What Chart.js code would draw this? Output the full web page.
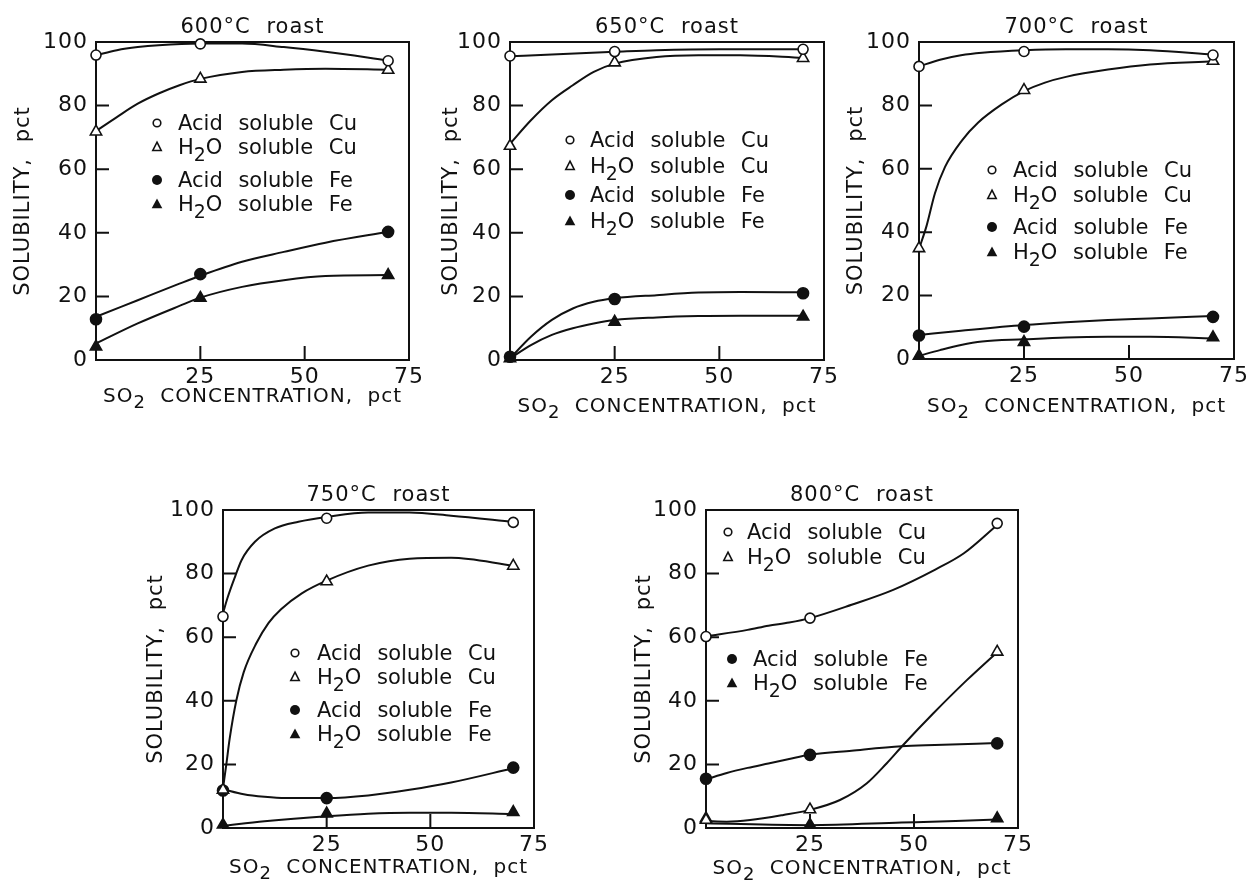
<!DOCTYPE html>
<html>
<head>
<meta charset="utf-8">
<script src="https://cdn.jsdelivr.net/npm/chart.js@4.4.1/dist/chart.umd.min.js"></script>
<style>
  html, body { margin: 0; padding: 0; background: #fff; overflow: hidden; width: 1250px; height: 882px; }
  canvas { position: absolute; }
  .leg { position: absolute; font: 21px "DejaVu Sans", sans-serif; word-spacing: 9px;
         color: #111; white-space: nowrap; line-height: 24px; height: 24px; }
  .xt { position: absolute; font: 20px "DejaVu Sans", sans-serif; letter-spacing: 1px; word-spacing: 7px;
        color: #111; white-space: nowrap; line-height: 24px; height: 24px; text-align: center; }
  .leg sub, .xt sub { font-size: 0.9em; vertical-align: -0.35em; line-height: 0; }
  .mk { position: absolute; }
</style>
</head>
<body>
<script>
// SO2 concentrations of the measured points (pct)
const so2 = [0, 25, 70];
const yMarks = [20, 40, 60, 80];
const xMarks = [25, 50];

const acidCu600 = [95.9, 99.4, 94.1];
const h2oCu600 = [71.8, 88.4, 91.2];
const acidFe600 = [12.8, 27.0, 40.3];
const h2oFe600 = [4.2, 19.5, 26.7];

const acidCu650 = [95.6, 97.0, 97.7];
const h2oCu650 = [67.3, 93.5, 94.9];
const acidFe650 = [1.0, 19.2, 21.0];
const h2oFe650 = [0.5, 12.0, 13.6];

const acidCu700 = [92.3, 97.0, 95.9];
const h2oCu700 = [34.9, 84.8, 94.0];
const acidFe700 = [7.4, 10.2, 13.3];
const h2oFe700 = [1.0, 5.3, 6.8];

const acidCu750 = [66.5, 97.4, 96.1];
const h2oCu750 = [12.0, 77.5, 82.4];
const acidFe750 = [11.8, 9.4, 19.0];
const h2oFe750 = [1.0, 4.5, 5.0];

const acidCu800 = [60.2, 66.0, 95.8];
const h2oCu800 = [2.5, 5.8, 55.4];
const acidFe800 = [15.5, 23.0, 26.6];
const h2oFe800 = [3.0, 1.0, 3.0];

// hand-drawn fitted curves, [SO2, solubility]
const curveAcidCu600 = [[0,95.8],[5,97.4],[10,98.4],[15,99],[25,99.5],[35,99.5],[45,98.4],[55,96.9],[70,94.2]];
const curveH2oCu600 = [[0,72],[5,76.4],[10,80.6],[15,83.8],[20,86.4],[25,88.4],[35,90.6],[45,91.3],[55,91.6],[70,91.3]];
const curveAcidFe600 = [[0,13.6],[10,18.8],[20,24],[25,26.5],[35,30.9],[45,34],[55,36.9],[70,40.3]];
const curveH2oFe600 = [[0,5.2],[10,11.5],[20,17],[25,19.6],[35,23],[45,25.1],[55,26.4],[70,26.7]];

const curveAcidCu650 = [[0,95.5],[10,96.1],[25,96.9],[35,97.4],[50,97.7],[70,97.7]];
const curveH2oCu650 = [[0,68],[5,75.4],[10,81.7],[15,86.4],[20,90.6],[25,93.2],[35,95.3],[45,95.8],[55,95.8],[70,95]];
const curveAcidFe650 = [[0,0.5],[5,7.3],[10,12.6],[15,16.2],[20,18.3],[25,19.4],[35,20.4],[45,21.2],[55,21.4],[70,21.3]];
const curveH2oFe650 = [[0,0.5],[5,4.7],[10,7.9],[15,10],[20,11.5],[25,12.6],[35,13.4],[45,13.8],[55,13.9],[70,13.9]];

const curveAcidCu700 = [[0,92.3],[5,94.4],[10,95.8],[15,96.6],[25,97.4],[35,97.7],[45,97.7],[55,97.4],[70,96.1]];
const curveH2oCu700 = [[0,34.7],[1.8,42],[3.8,52.3],[6.2,60.6],[10.2,68.9],[14.1,74.6],[19.7,80.3],[25,84.5],[30,87.2],[35,89],[45,91.3],[55,92.9],[70,93.9]];
const curveAcidFe700 = [[0,7.6],[10,8.9],[25,10.7],[35,11.6],[45,12.3],[55,12.8],[70,13.6]];
const curveH2oFe700 = [[0,1],[5,2.8],[10,4.4],[15,5.5],[25,6.2],[35,6.8],[45,7],[55,7],[70,6.5]];

const curveAcidCu750 = [[0,67.5],[1,72],[2.9,79],[4.5,84.3],[7.7,90],[12.5,94.2],[18.2,96.3],[25,97.8],[35,99.2],[45,99.2],[55,98.2],[70,96.3]];
const curveH2oCu750 = [[0,12.5],[0.8,20],[1.6,28],[3.2,40],[5,49],[8,58],[11,64.5],[14,68.8],[19,73.8],[25,77.8],[35,82.5],[45,84.7],[55,85],[70,82.5]];
const curveAcidFe750 = [[0,12.2],[5,10.6],[10,9.8],[15,9.4],[25,9.4],[35,10.2],[45,12],[55,14.3],[70,18.8]];
const curveH2oFe750 = [[0,0.7],[10,2.1],[25,3.7],[35,4.5],[45,4.8],[55,4.8],[70,4.4]];

const curveAcidCu800 = [[0,60.3],[10,62.3],[15,63.6],[20,64.6],[25,66],[35,70.2],[45,74.9],[55,81.2],[62,86.4],[70,95.3]];
const curveH2oCu800 = [[0,2.2],[5,2],[10.6,2.5],[18.6,4.1],[25,5.7],[32.2,8.8],[38.6,14],[43.4,20.3],[47.4,26.1],[54.6,36],[62.7,46.5],[70,55.3]];
const curveAcidFe800 = [[0,15.3],[5,17.3],[10,18.9],[15,20.3],[20,21.7],[25,23],[35,24.3],[47,25.7],[55,26.1],[70,26.7]];
const curveH2oFe800 = [[0,1.5],[25,0.9],[47,1.7],[60,2.2],[70,2.7]];

const seriesLabels = ['Acid soluble Cu', 'H<sub>2</sub>O soluble Cu', 'Acid soluble Fe', 'H<sub>2</sub>O soluble Fe'];
const xTitle = 'SO<sub>2</sub> CONCENTRATION, pct';
const yTitle = 'SOLUBILITY, pct';

const INK = '#111';
const FONT = '"DejaVu Sans", sans-serif';

const markerStyles = [
  { pointStyle: 'circle', radius: 5, fill: '#fff' },
  { pointStyle: 'triangle', radius: 6.5, fill: '#fff' },
  { pointStyle: 'circle', radius: 5.5, fill: INK },
  { pointStyle: 'triangle', radius: 6.5, fill: INK }
];

const panels = [
  { title: '600°C roast', box: { x: 96, y: 42, w: 313, h: 318 }, yGap: 72, xGap: 35,
    legend: [[157, 178, 123], [157, 178, 147], [157, 178, 180], [157, 178, 204]],
    marks: [acidCu600, h2oCu600, acidFe600, h2oFe600],
    curves: [curveAcidCu600, curveH2oCu600, curveAcidFe600, curveH2oFe600] },
  { title: '650°C roast', box: { x: 510, y: 42, w: 314, h: 318 }, yGap: 58, xGap: 45,
    legend: [[570, 590, 140], [570, 590, 166], [570, 590, 195], [570, 590, 221]],
    marks: [acidCu650, h2oCu650, acidFe650, h2oFe650],
    curves: [curveAcidCu650, curveH2oCu650, curveAcidFe650, curveH2oFe650] },
  { title: '700°C roast', box: { x: 919, y: 42, w: 315, h: 317 }, yGap: 62, xGap: 46,
    legend: [[992, 1013, 170], [992, 1013, 195], [992, 1013, 227], [992, 1013, 252]],
    marks: [acidCu700, h2oCu700, acidFe700, h2oFe700],
    curves: [curveAcidCu700, curveH2oCu700, curveAcidFe700, curveH2oFe700] },
  { title: '750°C roast', box: { x: 223, y: 510, w: 311, h: 318 }, yGap: 66, xGap: 38,
    legend: [[295, 317, 653], [295, 317, 677], [295, 317, 710], [295, 317, 734]],
    marks: [acidCu750, h2oCu750, acidFe750, h2oFe750],
    curves: [curveAcidCu750, curveH2oCu750, curveAcidFe750, curveH2oFe750] },
  { title: '800°C roast', box: { x: 706, y: 510, w: 312, h: 318 }, yGap: 61, xGap: 39,
    legend: [[728, 747, 532], [728, 747, 557], [732, 753, 659], [732, 753, 683]],
    marks: [acidCu800, h2oCu800, acidFe800, h2oFe800],
    curves: [curveAcidCu800, curveH2oCu800, curveAcidFe800, curveH2oFe800] }
];

// wider letter spacing like the lettering of the original
const spacing = {
  id: 'spacing',
  beforeDraw(chart) {
    chart.ctx.letterSpacing = '1px';
    chart.ctx.wordSpacing = '8px';
  }
};

// closed frame and inward tick marks
const frame = {
  id: 'frame',
  beforeDatasetsDraw(chart) {
    const { ctx, chartArea: a, scales: { x, y } } = chart;
    ctx.save();
    ctx.strokeStyle = INK;
    ctx.lineWidth = 2;
    ctx.strokeRect(a.left, a.top, a.right - a.left, a.bottom - a.top);
    ctx.beginPath();
    yMarks.forEach(v => {
      const py = y.getPixelForValue(v);
      ctx.moveTo(a.left, py);
      ctx.lineTo(a.left + 13, py);
    });
    xMarks.forEach(v => {
      const px = x.getPixelForValue(v);
      ctx.moveTo(px, a.bottom);
      ctx.lineTo(px, a.bottom - 14);
    });
    ctx.stroke();
    ctx.restore();
  }
};

const LEFT = 96, TOP = 42, RIGHT = 12, BOTTOM = 60;

function markerSvg(i) {
  let shape;
  if (i === 0) shape = '<circle cx="7" cy="7" r="3.8" fill="#fff" stroke="#111" stroke-width="1.6"/>';
  if (i === 1) shape = '<polygon points="7,2.2 11.2,10.5 2.8,10.5" fill="#fff" stroke="#111" stroke-width="1.6"/>';
  if (i === 2) shape = '<circle cx="7" cy="7" r="5" fill="#111"/>';
  if (i === 3) shape = '<polygon points="7,1.5 12.3,11.2 1.7,11.2" fill="#111"/>';
  return '<svg width="14" height="14" viewBox="0 0 14 14">' + shape + '</svg>';
}

panels.forEach(p => {
  const canvas = document.createElement('canvas');
  canvas.width = p.box.w + LEFT + RIGHT;
  canvas.height = p.box.h + TOP + BOTTOM;
  canvas.style.left = (p.box.x - LEFT) + 'px';
  canvas.style.top = (p.box.y - TOP) + 'px';
  document.body.appendChild(canvas);

  const datasets = [];
  p.marks.forEach((vals, i) => {
    const s = markerStyles[i];
    datasets.push({
      data: so2.map((x, k) => ({ x: x, y: vals[k] })),
      showLine: false,
      pointStyle: s.pointStyle,
      pointRadius: s.radius,
      pointBackgroundColor: s.fill,
      pointBorderColor: INK,
      pointBorderWidth: 1.6,
      clip: false
    });
  });
  p.curves.forEach(c => {
    datasets.push({
      data: c,
      borderColor: INK,
      borderWidth: 2,
      pointRadius: 0,
      cubicInterpolationMode: 'monotone',
      fill: false,
      clip: false
    });
  });

  new Chart(canvas, {
    type: 'line',
    data: { datasets: datasets },
    options: {
      responsive: false,
      animation: false,
      events: [],
      layout: { padding: { left: 0, right: RIGHT, top: 0, bottom: 0 } },
      plugins: {
        legend: { display: false },
        tooltip: { enabled: false },
        title: {
          display: true,
          text: p.title,
          fullSize: false,
          color: INK,
          font: { family: FONT, size: 21, weight: 'normal', lineHeight: 1.2 },
          padding: { top: 14.5, bottom: TOP - 25.2 - 14.5 }
        }
      },
      scales: {
        x: {
          type: 'linear',
          min: 0,
          max: 75,
          grid: { display: false, drawTicks: false },
          border: { display: false },
          ticks: {
            stepSize: 25,
            padding: 4,
            maxRotation: 0,
            color: INK,
            font: { family: FONT, size: 22 },
            callback: v => (v === 0 ? '' : v)
          },
          afterFit(s) {
            s.height = BOTTOM;
            s.paddingLeft = 0;
            s.paddingRight = 0;
          }
        },
        y: {
          min: 0,
          max: 100,
          grid: { display: false, drawTicks: false },
          border: { display: false },
          ticks: {
            stepSize: 20,
            padding: 8,
            color: INK,
            font: { family: FONT, size: 22 }
          },
          title: {
            display: true,
            text: yTitle,
            color: INK,
            font: { family: FONT, size: 21, lineHeight: 1.2 },
            padding: { top: LEFT - p.yGap - 12.6, bottom: 0 }
          },
          afterFit(s) {
            s.width = LEFT;
          }
        }
      }
    },
    plugins: [spacing, frame]
  });

  // x-axis title as text with a real subscript
  const xt = document.createElement('div');
  xt.className = 'xt';
  xt.style.left = (p.box.x - 50) + 'px';
  xt.style.width = (p.box.w + 100) + 'px';
  xt.style.top = (p.box.y + p.box.h + p.xGap - 12) + 'px';
  xt.innerHTML = xTitle;
  document.body.appendChild(xt);

  p.legend.forEach((row, i) => {
    const mk = document.createElement('div');
    mk.className = 'mk';
    mk.style.left = (row[0] - 7) + 'px';
    mk.style.top = (row[2] - 7) + 'px';
    mk.innerHTML = markerSvg(i);
    document.body.appendChild(mk);

    const lab = document.createElement('div');
    lab.className = 'leg';
    lab.style.left = row[1] + 'px';
    lab.style.top = (row[2] - 12) + 'px';
    lab.innerHTML = seriesLabels[i];
    document.body.appendChild(lab);
  });
});
</script>
</body>
</html>
